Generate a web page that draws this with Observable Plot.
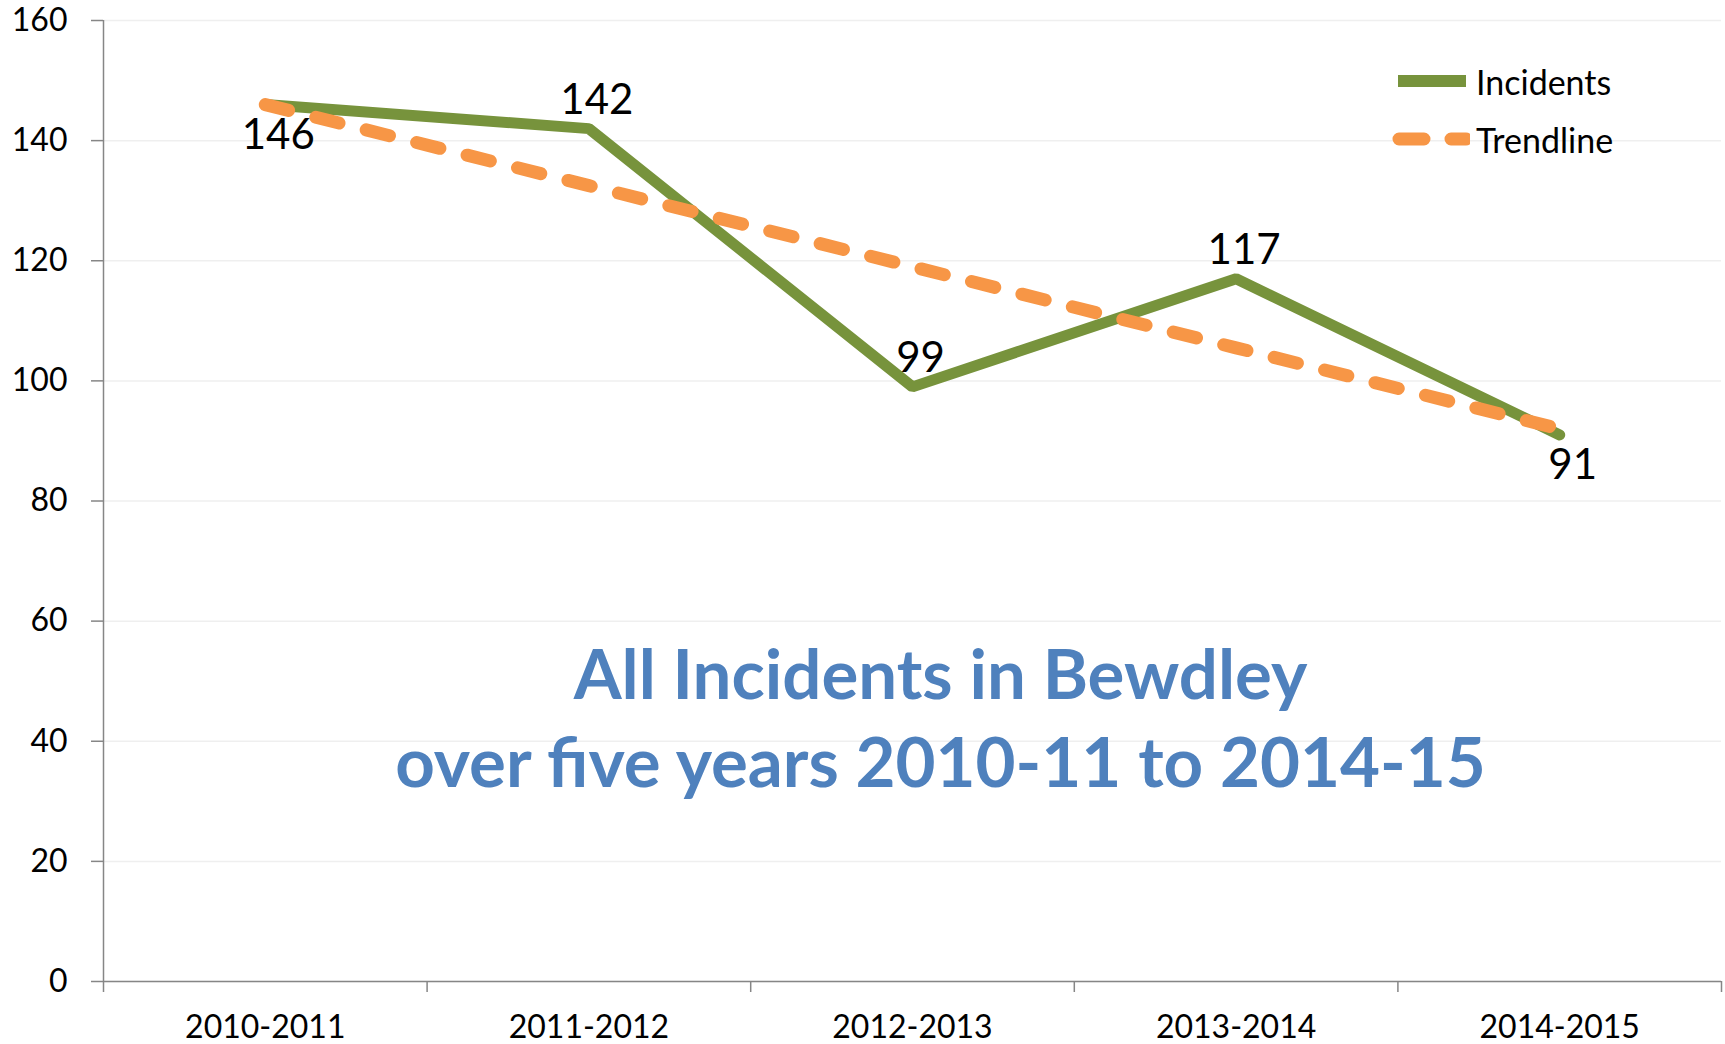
<!DOCTYPE html>
<html>
<head>
<meta charset="utf-8">
<script src="https://cdn.jsdelivr.net/npm/d3@7"></script>
<script src="https://cdn.jsdelivr.net/npm/@observablehq/plot@0.6"></script>
<style>
  html, body { margin: 0; padding: 0; background: #fff; }
  #wrap { position: relative; width: 1725px; height: 1044px; font-family: Lato, "Open Sans", sans-serif; }
  #legend { position: absolute; left: 1390px; top: 52px; font-size: 34px; color: #000; }
  #legend .row { display: flex; align-items: center; height: 58px; }
  #legend svg { display: block; margin-right: 6px; }
</style>
</head>
<body>
<div id="wrap"></div>
<script>
const categories = ["2010-2011", "2011-2012", "2012-2013", "2013-2014", "2014-2015"];
const incidents = [146, 142, 99, 117, 91];
const trendline = [146, 132.5, 119, 105.5, 92];
const labelSide = ["below", "above", "above", "above", "below"];
const yTicks = [0, 20, 40, 60, 80, 100, 120, 140, 160];
const titleLines = ["All Incidents in Bewdley", "over five years 2010-11 to 2014-15"];
const seriesNames = ["Incidents", "Trendline"];

const GREEN = "#77933C", ORANGE = "#F79646", AXIS = "#868686";

const data = categories.map((c, i) => ({i, category: c, incidents: incidents[i], trend: trendline[i], side: labelSide[i]}));
const boundaries = d3.range(categories.length + 1).map(k => k - 0.5);

const chart = Plot.plot({
  width: 1725,
  height: 1044,
  marginLeft: 103,
  marginRight: 4,
  marginTop: 20,
  marginBottom: 63,
  style: {fontFamily: "Lato, 'Open Sans', sans-serif", color: "#000", background: "#fff", overflow: "visible"},
  x: {type: "linear", domain: [-0.5, categories.length - 0.5]},
  y: {domain: [0, 160]},
  marks: [
    Plot.gridY(yTicks, {stroke: "#efefef", strokeOpacity: 1, strokeWidth: 1.5}),
    Plot.axisY({ticks: yTicks, tickSize: 12, tickPadding: 24, stroke: AXIS, strokeWidth: 1.5, fontSize: 32, label: null}),
    Plot.axisX({ticks: boundaries, tickSize: 11, tickFormat: () => "", stroke: AXIS, strokeWidth: 1.5, label: null}),
    Plot.axisX({ticks: d3.range(categories.length), tickSize: 0, tickPadding: 34, tickFormat: k => categories[k], fontSize: 32, label: null}),
    Plot.ruleX([-0.5], {stroke: AXIS, strokeWidth: 1.5}),
    Plot.ruleY([0], {stroke: AXIS, strokeWidth: 1.5}),
    Plot.lineY(data, {x: "i", y: "incidents", stroke: GREEN, strokeWidth: 11, strokeLinejoin: "miter"}),
    Plot.lineY(data, {x: "i", y: "trend", stroke: ORANGE, strokeWidth: 13, strokeDasharray: "24,28", strokeLinecap: "round"}),
    Plot.text(data.filter(d => d.side === "above"), {x: "i", y: "incidents", text: d => String(d.incidents), fontSize: 42, fill: "#000", dx: 8, dy: -28, lineAnchor: "middle"}),
    Plot.text(data.filter(d => d.side === "below"), {x: "i", y: "incidents", text: d => String(d.incidents), fontSize: 42, fill: "#000", dx: 13, dy: 31, lineAnchor: "middle"}),
    Plot.text([titleLines.join("\n")], {frameAnchor: "middle", text: d => d, fontSize: 69, fontWeight: "bold", fill: "#4F81BD", dx: 28, dy: 214, lineHeight: 1.28})
  ]
});

const wrap = document.getElementById("wrap");
wrap.appendChild(chart);

const legend = document.createElement("div");
legend.id = "legend";
legend.innerHTML = `
  <div class="row"><svg width="80" height="20"><line x1="8" x2="76" y1="10" y2="10" stroke="${GREEN}" stroke-width="12"/></svg><span>${seriesNames[0]}</span></div>
  <div class="row"><svg width="80" height="20"><line x1="9" x2="76" y1="10" y2="10" stroke="${ORANGE}" stroke-width="13" stroke-linecap="round" stroke-dasharray="25,27"/></svg><span>${seriesNames[1]}</span></div>`;
wrap.appendChild(legend);
</script>
</body>
</html>
